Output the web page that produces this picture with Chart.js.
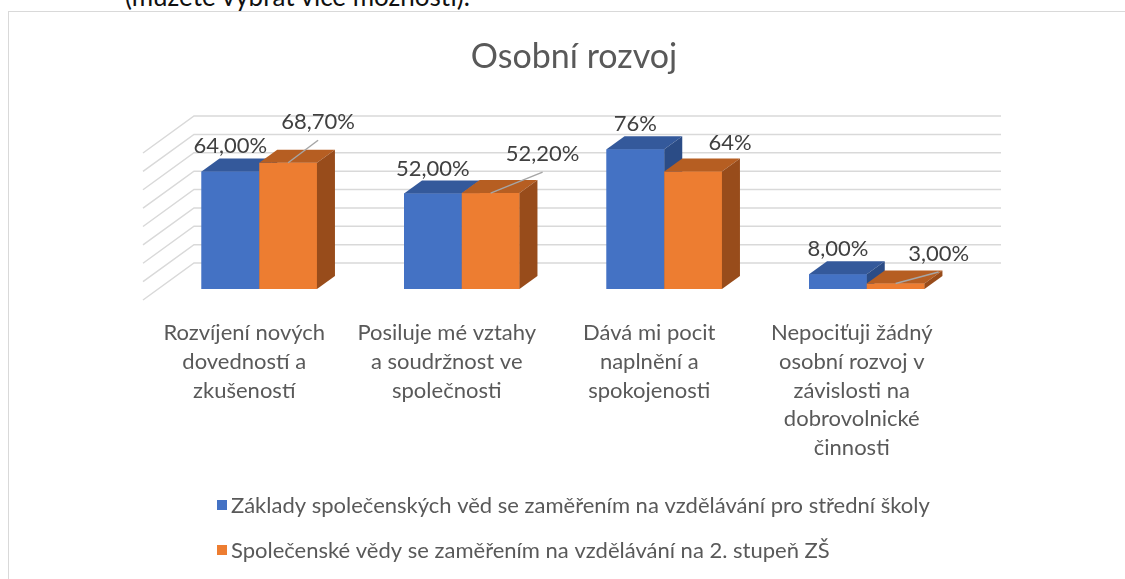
<!DOCTYPE html>
<html>
<head>
<meta charset="utf-8">
<script src="https://cdn.jsdelivr.net/npm/chart.js@4/dist/chart.umd.min.js"></script>
<style>
  html, body { margin: 0; padding: 0; background: #fff; overflow: hidden; }
  body { width: 1125px; height: 579px; position: relative; font-family: Lato, sans-serif; }
  #header { position: absolute; left: 125px; top: -17.5px; font-size: 26px; line-height: 1; color: #111; white-space: nowrap; }
  #frame { position: absolute; left: 8px; top: 11px; width: 1300px; height: 800px; border: 1.5px solid #d9d9d9; }
  #chart { position: absolute; left: 0; top: 0; }
</style>
</head>
<body>
<div id="header">(můžete vybrat více možností).</div>
<div id="frame"></div>
<canvas id="chart" width="1125" height="579"></canvas>
<script>
//chart data
const chartTitle = "Osobní rozvoj";
const categories = [
  ["Rozvíjení nových", "dovedností a", "zkušeností"],
  ["Posiluje mé vztahy", "a soudržnost ve", "společnosti"],
  ["Dává mi pocit", "naplnění a", "spokojenosti"],
  ["Nepociťuji žádný", "osobní rozvoj v", "závislosti na", "dobrovolnické", "činnosti"]
];
const seriesNames = [
  "Základy společenských věd se zaměřením na vzdělávání pro střední školy",
  "Společenské vědy se zaměřením na vzdělávání na 2. stupeň ZŠ"
];
const ssValues = [64, 52, 76, 8];       //střední školy
const zsValues = [68.7, 52.2, 64, 3];   //2. stupeň ZŠ
const ssDecimals = [2, 2, 0, 2];        //decimals shown in the data labels
const zsDecimals = [2, 2, 0, 2];
const gridValues = [0, 10, 20, 30, 40, 50, 60, 70, 80];

//styles
const FONT = "Lato, sans-serif";
const frontColors = ["#4472C4", "#ED7D31"];
const topColors = ["#34599B", "#B65E22"];
const sideColors = ["#2B4C86", "#984C1B"];
const barDepth = { dx: 18, dy: -13 };   //front face -> back face of a bar
const wallBack = { dx: 36, dy: -26 };   //front face plane -> back wall
const floorFront = { dx: -15, dy: 11 }; //front face plane -> front edge of floor
//data labels that were dragged away from the default spot (series-index)
const labelMoves = {
  "1-0": { dx: 30, dy: -16, leader: true },
  "1-1": { dx: 52, dy: -14.5, leader: true },
  "1-2": { dx: 37, dy: -3, leader: false },
  "1-3": { dx: 43, dy: -5, leader: true }
};

const decimals = [ssDecimals, zsDecimals];
function fmt(v, d) {
  return v.toFixed(d).replace(".", ",") + "%";
}

function poly(ctx, pts) {
  ctx.beginPath();
  ctx.moveTo(pts[0][0], pts[0][1]);
  for (let k = 1; k < pts.length; k++) ctx.lineTo(pts[k][0], pts[k][1]);
  ctx.closePath();
  ctx.fill();
}

//draws the 3d walls, the bar tops/sides and the labels
const bars3d = {
  id: "bars3d",
  beforeDatasetsDraw(chart) {
    const { ctx, chartArea: a } = chart;
    const y = chart.scales.y;
    ctx.save();
    ctx.strokeStyle = "#d9d9d9";
    ctx.lineWidth = 1.5;
    gridValues.forEach(v => {
      const py = y.getPixelForValue(v);
      ctx.beginPath();
      ctx.moveTo(a.left + floorFront.dx, py + floorFront.dy);
      ctx.lineTo(a.left + wallBack.dx, py + wallBack.dy);
      ctx.lineTo(a.right + wallBack.dx - 3, py + wallBack.dy);
      ctx.stroke();
    });
    ctx.restore();
  },
  afterDatasetsDraw(chart) {
    const ctx = chart.ctx;
    const metas = chart.data.datasets.map((d, i) => chart.getDatasetMeta(i));
    const { dx, dy } = barDepth;
    ctx.save();
    //paint left to right so the next bar hides the side of the previous one
    categories.forEach((c, j) => {
      metas.forEach((meta, i) => {
        const b = meta.data[j].getProps(["x", "y", "base", "width"], true);
        const l = b.x - b.width / 2, r = b.x + b.width / 2;
        ctx.fillStyle = frontColors[i];
        ctx.fillRect(l, b.y, r - l, b.base - b.y);
        ctx.fillStyle = topColors[i];
        poly(ctx, [[l, b.y], [l + dx, b.y + dy], [r + dx, b.y + dy], [r, b.y]]);
        ctx.fillStyle = sideColors[i];
        poly(ctx, [[r, b.y], [r + dx, b.y + dy], [r + dx, b.base + dy], [r, b.base]]);
      });
    });

    //data labels
    ctx.font = "22px " + FONT;
    ctx.textAlign = "center";
    ctx.textBaseline = "middle";
    metas.forEach((meta, i) => {
      meta.data.forEach((el, j) => {
        const b = el.getProps(["x", "y"], true);
        const mv = labelMoves[i + "-" + j] || { dx: 0, dy: 0, leader: false };
        const lx = b.x + mv.dx, ly = b.y - 25 + mv.dy;
        if (mv.leader) {
          ctx.strokeStyle = "#a6a6a6";
          ctx.lineWidth = 1.5;
          ctx.beginPath();
          ctx.moveTo(b.x, b.y);
          ctx.lineTo(lx, ly + 18.5);
          ctx.stroke();
        }
        ctx.fillStyle = "#404040";
        ctx.fillText(fmt(chart.data.datasets[i].data[j], decimals[i][j]), lx, ly);
      });
    });
    ctx.restore();
  },
  afterDraw(chart) {
    const ctx = chart.ctx;
    ctx.save();
    //title
    ctx.font = "34px " + FONT;
    ctx.fillStyle = "#595959";
    ctx.textAlign = "center";
    ctx.textBaseline = "middle";
    ctx.fillText(chartTitle, 574, 57);
    //legend
    ctx.font = "22px " + FONT;
    ctx.textAlign = "left";
    chart.data.datasets.forEach((ds, i) => {
      const rowY = 505 + i * 45;
      ctx.fillStyle = ds.backgroundColor;
      ctx.fillRect(217, rowY - 5, 10, 10);
      ctx.fillStyle = "#595959";
      ctx.fillText(ds.label, 231, rowY + 1);
    });
    ctx.restore();
  }
};

new Chart(document.getElementById("chart"), {
  type: "bar",
  data: {
    labels: categories,
    datasets: [
      { label: seriesNames[0], data: ssValues, backgroundColor: frontColors[0] },
      { label: seriesNames[1], data: zsValues, backgroundColor: frontColors[1] }
    ]
  },
  options: {
    responsive: false,
    animation: false,
    layout: { padding: { left: 158, right: 157, top: 142, bottom: 0 } },
    datasets: { bar: { categoryPercentage: 0.57, barPercentage: 1 } },
    plugins: {
      legend: { display: false },
      title: { display: false },
      tooltip: { enabled: false }
    },
    scales: {
      x: {
        grid: { display: false, drawTicks: false },
        border: { display: false },
        ticks: {
          padding: 30,
          labelOffset: -15,
          maxRotation: 0,
          autoSkip: false,
          color: "#595959",
          font: { family: FONT, size: 22, lineHeight: 1.3 }
        },
        afterFit(scale) { scale.height = 290; }
      },
      y: { display: false, min: 0, max: 80 }
    }
  },
  plugins: [bars3d]
});
</script>
</body>
</html>
